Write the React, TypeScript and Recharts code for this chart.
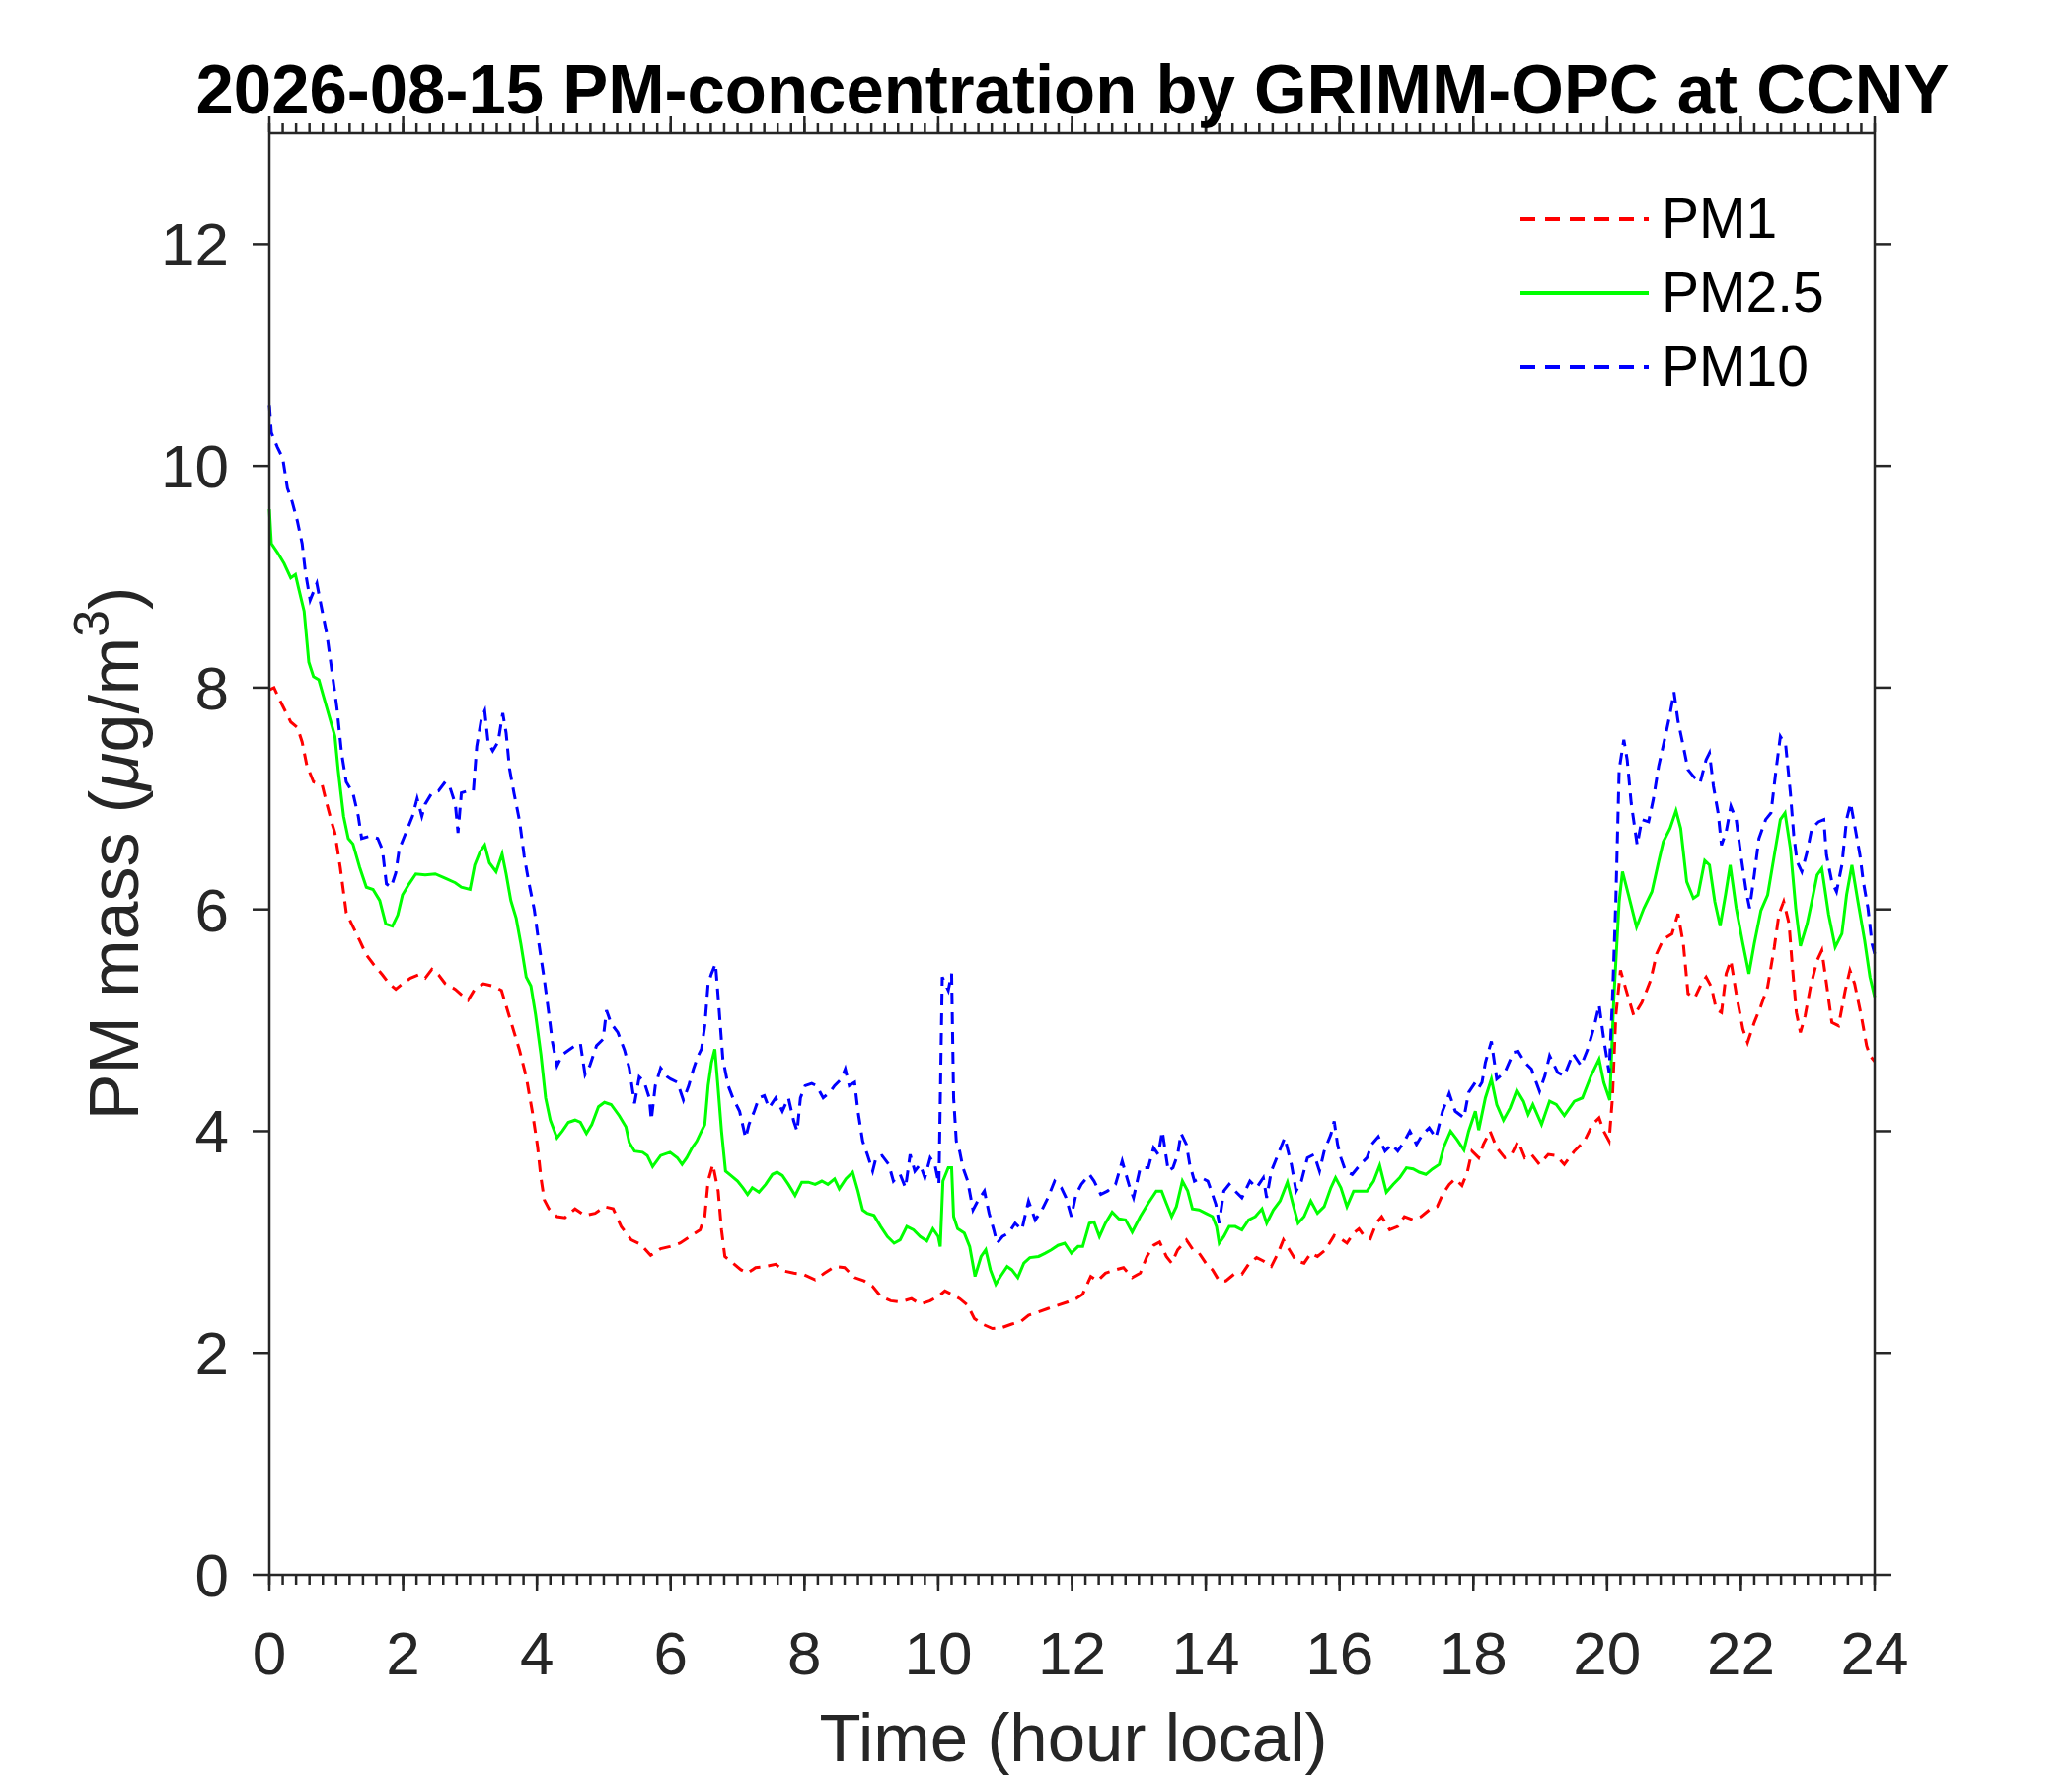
import { LineChart, Line, XAxis, YAxis, Legend } from "recharts";

// hour of day, PM mass (µg/m³)
const PM1: [number, number][] = [
  [0, 7.98], [0.07, 8.0], [0.17, 7.87], [0.32, 7.69], [0.42, 7.64], [0.49, 7.51], [0.56, 7.3],
  [0.66, 7.15], [0.79, 7.12], [0.86, 6.95], [0.93, 6.79], [0.98, 6.69], [1.06, 6.38], [1.15, 5.97],
  [1.23, 5.87], [1.35, 5.72], [1.45, 5.59], [1.55, 5.51], [1.69, 5.41], [1.79, 5.33], [1.89, 5.28],
  [1.99, 5.33], [2.11, 5.38], [2.23, 5.41], [2.33, 5.38], [2.43, 5.46], [2.53, 5.41], [2.63, 5.33],
  [2.78, 5.28], [2.87, 5.23], [2.97, 5.18], [3.07, 5.28], [3.2, 5.33], [3.34, 5.31], [3.47, 5.27],
  [3.54, 5.13], [3.64, 4.93], [3.74, 4.73], [3.84, 4.49], [3.93, 4.18], [4.01, 3.86], [4.06, 3.58],
  [4.11, 3.38], [4.18, 3.3], [4.3, 3.23], [4.42, 3.22], [4.57, 3.3], [4.72, 3.24], [4.87, 3.26],
  [5.01, 3.32], [5.14, 3.3], [5.26, 3.14], [5.41, 3.02], [5.55, 2.98], [5.7, 2.88], [5.85, 2.94],
  [5.99, 2.96], [6.14, 2.99], [6.29, 3.05], [6.44, 3.11], [6.51, 3.23], [6.56, 3.55], [6.63, 3.7],
  [6.71, 3.46], [6.76, 3.11], [6.81, 2.87], [6.93, 2.81], [7.05, 2.75], [7.15, 2.72], [7.27, 2.77],
  [7.42, 2.78], [7.57, 2.8], [7.69, 2.74], [7.84, 2.72], [7.98, 2.71], [8.16, 2.66], [8.3, 2.72],
  [8.45, 2.78], [8.6, 2.77], [8.75, 2.68], [8.89, 2.65], [9.02, 2.6], [9.14, 2.51], [9.29, 2.47],
  [9.43, 2.46], [9.6, 2.49], [9.73, 2.44], [9.88, 2.47], [10.0, 2.51], [10.1, 2.56], [10.2, 2.53],
  [10.32, 2.49], [10.44, 2.43], [10.54, 2.31], [10.66, 2.26], [10.81, 2.22], [10.96, 2.23],
  [11.1, 2.26], [11.23, 2.28], [11.35, 2.34], [11.5, 2.37], [11.64, 2.4], [11.79, 2.43],
  [11.94, 2.46], [12.06, 2.49], [12.16, 2.53], [12.28, 2.69], [12.38, 2.65], [12.5, 2.72],
  [12.65, 2.75], [12.77, 2.77], [12.9, 2.68], [13.02, 2.72], [13.12, 2.87], [13.22, 2.97],
  [13.31, 3.0], [13.41, 2.87], [13.49, 2.81], [13.58, 2.93], [13.71, 3.02], [13.81, 2.93],
  [13.9, 2.9], [14.0, 2.81], [14.1, 2.75], [14.2, 2.65], [14.3, 2.65], [14.42, 2.71], [14.54, 2.71],
  [14.64, 2.8], [14.76, 2.86], [14.86, 2.83], [14.98, 2.78], [15.08, 2.9], [15.16, 3.02],
  [15.25, 2.93], [15.35, 2.83], [15.47, 2.81], [15.57, 2.9], [15.67, 2.87], [15.79, 2.93],
  [15.92, 3.06], [16.02, 3.03], [16.11, 2.99], [16.21, 3.08], [16.29, 3.12], [16.36, 3.06],
  [16.46, 3.03], [16.55, 3.17], [16.63, 3.23], [16.75, 3.11], [16.87, 3.14], [16.97, 3.23],
  [17.1, 3.2], [17.22, 3.23], [17.34, 3.29], [17.46, 3.32], [17.54, 3.43], [17.64, 3.52],
  [17.73, 3.57], [17.83, 3.51], [17.91, 3.63], [17.98, 3.82], [18.08, 3.76], [18.15, 3.88],
  [18.25, 4.0], [18.35, 3.85], [18.47, 3.76], [18.57, 3.79], [18.67, 3.91], [18.77, 3.76],
  [18.87, 3.79], [18.99, 3.7], [19.12, 3.79], [19.24, 3.78], [19.36, 3.7], [19.51, 3.82],
  [19.66, 3.91], [19.78, 4.06], [19.88, 4.12], [19.95, 4.0], [20.03, 3.91], [20.08, 4.3],
  [20.13, 5.04], [20.2, 5.45], [20.3, 5.24], [20.4, 5.04], [20.52, 5.16], [20.65, 5.36],
  [20.74, 5.6], [20.84, 5.73], [20.97, 5.78], [21.06, 5.96], [21.14, 5.69], [21.21, 5.24],
  [21.31, 5.2], [21.41, 5.33], [21.48, 5.39], [21.56, 5.3], [21.63, 5.1], [21.71, 5.07],
  [21.78, 5.42], [21.85, 5.54], [21.93, 5.24], [22.03, 4.92], [22.1, 4.8], [22.2, 4.98],
  [22.3, 5.13], [22.4, 5.3], [22.5, 5.66], [22.57, 5.96], [22.64, 6.07], [22.72, 5.87],
  [22.77, 5.48], [22.83, 5.07], [22.89, 4.89], [22.96, 5.04], [23.04, 5.3], [23.14, 5.54],
  [23.21, 5.63], [23.28, 5.33], [23.36, 4.98], [23.46, 4.95], [23.56, 5.27], [23.63, 5.45],
  [23.7, 5.33], [23.8, 5.04], [23.88, 4.77], [23.93, 4.68], [24.0, 4.63],
];

const PM25: [number, number][] = [
  [0, 9.61], [0.03, 9.3], [0.12, 9.22], [0.22, 9.12], [0.32, 8.99], [0.39, 9.02], [0.44, 8.89],
  [0.52, 8.69], [0.59, 8.23], [0.66, 8.1], [0.74, 8.07], [0.81, 7.92], [0.91, 7.71], [0.98, 7.56],
  [1.03, 7.25], [1.11, 6.84], [1.18, 6.64], [1.25, 6.59], [1.35, 6.38], [1.45, 6.2], [1.55, 6.18],
  [1.65, 6.08], [1.74, 5.87], [1.84, 5.85], [1.92, 5.95], [1.99, 6.13], [2.09, 6.23], [2.19, 6.32],
  [2.33, 6.31], [2.48, 6.32], [2.63, 6.28], [2.78, 6.24], [2.87, 6.2], [3.0, 6.18], [3.07, 6.4],
  [3.15, 6.52], [3.22, 6.58], [3.29, 6.42], [3.39, 6.34], [3.48, 6.5], [3.54, 6.32], [3.61, 6.08],
  [3.69, 5.92], [3.76, 5.69], [3.84, 5.39], [3.91, 5.31], [3.98, 5.05], [4.06, 4.69], [4.13, 4.3],
  [4.2, 4.1], [4.3, 3.94], [4.38, 4.0], [4.47, 4.08], [4.57, 4.1], [4.65, 4.08], [4.74, 3.98],
  [4.82, 4.06], [4.92, 4.22], [5.01, 4.26], [5.11, 4.24], [5.23, 4.14], [5.33, 4.04], [5.38, 3.9],
  [5.46, 3.82], [5.58, 3.81], [5.65, 3.78], [5.73, 3.68], [5.85, 3.78], [5.99, 3.81], [6.1, 3.76],
  [6.17, 3.7], [6.24, 3.76], [6.32, 3.85], [6.39, 3.91], [6.46, 4.0], [6.51, 4.06], [6.56, 4.41],
  [6.61, 4.62], [6.66, 4.74], [6.71, 4.38], [6.76, 4.0], [6.82, 3.64], [6.9, 3.6], [7.0, 3.55],
  [7.08, 3.49], [7.15, 3.43], [7.22, 3.49], [7.32, 3.45], [7.42, 3.52], [7.52, 3.61], [7.59, 3.63],
  [7.67, 3.6], [7.76, 3.52], [7.86, 3.42], [7.96, 3.54], [8.06, 3.54], [8.16, 3.52], [8.26, 3.55],
  [8.35, 3.52], [8.45, 3.57], [8.52, 3.48], [8.62, 3.57], [8.72, 3.63], [8.8, 3.46], [8.87, 3.29],
  [8.94, 3.26], [9.04, 3.24], [9.14, 3.14], [9.24, 3.05], [9.34, 2.99], [9.43, 3.02], [9.53, 3.14],
  [9.63, 3.11], [9.73, 3.05], [9.83, 3.01], [9.92, 3.12], [10.0, 3.05], [10.03, 2.96], [10.07, 3.55],
  [10.15, 3.67], [10.2, 3.67], [10.23, 3.23], [10.29, 3.12], [10.39, 3.08], [10.47, 2.96],
  [10.55, 2.69], [10.64, 2.87], [10.71, 2.93], [10.78, 2.75], [10.86, 2.62], [10.93, 2.69],
  [11.03, 2.78], [11.1, 2.75], [11.19, 2.68], [11.28, 2.81], [11.37, 2.86], [11.5, 2.87],
  [11.6, 2.9], [11.69, 2.93], [11.79, 2.97], [11.89, 2.99], [11.99, 2.9], [12.09, 2.96],
  [12.16, 2.96], [12.26, 3.17], [12.33, 3.18], [12.41, 3.05], [12.5, 3.17], [12.6, 3.27],
  [12.7, 3.21], [12.8, 3.2], [12.9, 3.09], [13.02, 3.23], [13.14, 3.35], [13.26, 3.46],
  [13.34, 3.46], [13.41, 3.35], [13.49, 3.23], [13.56, 3.32], [13.65, 3.55], [13.73, 3.46],
  [13.8, 3.3], [13.9, 3.29], [14.0, 3.26], [14.1, 3.23], [14.16, 3.14], [14.2, 2.99], [14.27, 3.05],
  [14.35, 3.14], [14.44, 3.14], [14.54, 3.11], [14.64, 3.2], [14.74, 3.23], [14.84, 3.3],
  [14.91, 3.17], [15.01, 3.29], [15.11, 3.37], [15.22, 3.54], [15.3, 3.35], [15.38, 3.17],
  [15.47, 3.23], [15.57, 3.37], [15.67, 3.26], [15.77, 3.32], [15.87, 3.49], [15.94, 3.58],
  [16.02, 3.49], [16.11, 3.32], [16.21, 3.46], [16.31, 3.46], [16.41, 3.46], [16.51, 3.55],
  [16.6, 3.69], [16.7, 3.45], [16.8, 3.52], [16.9, 3.58], [17.0, 3.67], [17.1, 3.66],
  [17.19, 3.63], [17.29, 3.61], [17.39, 3.66], [17.49, 3.7], [17.56, 3.86], [17.66, 4.0],
  [17.76, 3.92], [17.86, 3.83], [17.93, 4.0], [18.03, 4.18], [18.08, 4.01], [18.18, 4.3],
  [18.27, 4.47], [18.35, 4.24], [18.45, 4.1], [18.55, 4.21], [18.65, 4.37], [18.75, 4.27],
  [18.82, 4.15], [18.89, 4.24], [19.02, 4.06], [19.14, 4.27], [19.24, 4.24], [19.36, 4.14],
  [19.51, 4.27], [19.63, 4.3], [19.76, 4.5], [19.88, 4.65], [19.95, 4.44], [20.04, 4.28],
  [20.1, 5.19], [20.18, 6.07], [20.23, 6.34], [20.32, 6.13], [20.44, 5.84], [20.55, 6.01],
  [20.67, 6.16], [20.77, 6.43], [20.84, 6.61], [20.94, 6.73], [21.03, 6.89], [21.1, 6.73],
  [21.19, 6.25], [21.29, 6.1], [21.36, 6.13], [21.46, 6.44], [21.53, 6.4], [21.61, 6.07],
  [21.69, 5.85], [21.77, 6.13], [21.84, 6.4], [21.93, 6.01], [22.03, 5.69], [22.12, 5.42],
  [22.2, 5.69], [22.3, 5.99], [22.4, 6.13], [22.5, 6.49], [22.59, 6.81], [22.66, 6.87],
  [22.74, 6.55], [22.82, 6.01], [22.89, 5.67], [22.99, 5.87], [23.06, 6.07], [23.14, 6.31],
  [23.21, 6.37], [23.31, 5.96], [23.41, 5.66], [23.51, 5.78], [23.58, 6.13], [23.66, 6.4],
  [23.75, 6.07], [23.85, 5.72], [23.93, 5.39], [24.0, 5.21],
];

const PM10: [number, number][] = [
  [0, 10.55], [0.03, 10.3], [0.12, 10.17], [0.2, 10.07], [0.27, 9.8], [0.34, 9.68], [0.42, 9.5],
  [0.49, 9.3], [0.54, 9.04], [0.61, 8.79], [0.71, 8.94], [0.79, 8.69], [0.86, 8.48], [0.93, 8.17],
  [1.01, 7.82], [1.08, 7.41], [1.15, 7.15], [1.25, 7.05], [1.33, 6.84], [1.38, 6.64], [1.5, 6.66],
  [1.62, 6.64], [1.69, 6.54], [1.75, 6.23], [1.82, 6.2], [1.89, 6.33], [1.94, 6.54], [2.04, 6.69],
  [2.14, 6.84], [2.21, 7.0], [2.28, 6.84], [2.33, 6.95], [2.43, 7.05], [2.53, 7.07], [2.63, 7.15],
  [2.7, 7.1], [2.78, 6.95], [2.82, 6.69], [2.87, 7.05], [2.97, 7.07], [3.05, 7.07], [3.1, 7.47],
  [3.17, 7.72], [3.22, 7.79], [3.27, 7.51], [3.34, 7.43], [3.42, 7.51], [3.49, 7.77], [3.54, 7.59],
  [3.59, 7.27], [3.66, 7.04], [3.74, 6.8], [3.81, 6.48], [3.88, 6.24], [3.96, 6.0], [4.03, 5.69],
  [4.11, 5.37], [4.18, 5.05], [4.23, 4.81], [4.3, 4.59], [4.38, 4.69], [4.47, 4.73], [4.57, 4.77],
  [4.65, 4.79], [4.72, 4.51], [4.79, 4.59], [4.89, 4.77], [4.99, 4.83], [5.04, 5.09], [5.11, 4.97],
  [5.21, 4.89], [5.31, 4.73], [5.38, 4.57], [5.46, 4.25], [5.53, 4.49], [5.6, 4.45], [5.68, 4.3],
  [5.71, 4.1], [5.77, 4.41], [5.85, 4.57], [5.95, 4.49], [6.0, 4.47], [6.1, 4.44], [6.19, 4.28],
  [6.27, 4.41], [6.34, 4.56], [6.41, 4.68], [6.46, 4.74], [6.51, 4.95], [6.56, 5.33], [6.61, 5.42],
  [6.67, 5.51], [6.72, 5.13], [6.78, 4.65], [6.86, 4.41], [6.93, 4.3], [7.03, 4.18], [7.12, 3.94],
  [7.17, 4.06], [7.25, 4.18], [7.32, 4.3], [7.4, 4.32], [7.47, 4.21], [7.57, 4.3], [7.67, 4.18],
  [7.76, 4.3], [7.84, 4.09], [7.89, 4.0], [7.94, 4.3], [8.01, 4.41], [8.11, 4.43], [8.18, 4.41],
  [8.28, 4.3], [8.38, 4.35], [8.45, 4.41], [8.55, 4.47], [8.61, 4.56], [8.67, 4.41], [8.75, 4.44],
  [8.8, 4.18], [8.87, 3.91], [8.94, 3.79], [9.02, 3.64], [9.07, 3.76], [9.16, 3.78], [9.26, 3.7],
  [9.33, 3.55], [9.43, 3.61], [9.51, 3.49], [9.58, 3.79], [9.65, 3.64], [9.73, 3.7], [9.8, 3.58],
  [9.88, 3.76], [9.95, 3.7], [10.01, 3.52], [10.06, 5.39], [10.15, 5.27], [10.2, 5.42],
  [10.23, 4.3], [10.27, 3.91], [10.32, 3.82], [10.37, 3.67], [10.44, 3.55], [10.52, 3.29],
  [10.59, 3.37], [10.69, 3.46], [10.76, 3.26], [10.83, 3.11], [10.88, 2.99], [10.96, 3.05],
  [11.05, 3.08], [11.15, 3.17], [11.25, 3.11], [11.35, 3.37], [11.45, 3.2], [11.55, 3.29],
  [11.64, 3.4], [11.74, 3.55], [11.84, 3.49], [11.91, 3.4], [11.99, 3.23], [12.06, 3.43],
  [12.14, 3.52], [12.26, 3.61], [12.33, 3.55], [12.43, 3.43], [12.53, 3.46], [12.65, 3.52],
  [12.75, 3.73], [12.85, 3.52], [12.92, 3.4], [13.02, 3.67], [13.14, 3.67], [13.22, 3.85],
  [13.29, 3.79], [13.35, 4.0], [13.44, 3.64], [13.51, 3.67], [13.58, 3.79], [13.63, 3.98],
  [13.71, 3.88], [13.76, 3.7], [13.83, 3.55], [13.93, 3.58], [14.03, 3.55], [14.1, 3.43],
  [14.15, 3.34], [14.2, 3.17], [14.27, 3.46], [14.35, 3.52], [14.44, 3.46], [14.54, 3.4],
  [14.66, 3.55], [14.76, 3.49], [14.86, 3.58], [14.91, 3.4], [14.98, 3.64], [15.08, 3.79],
  [15.18, 3.94], [15.28, 3.7], [15.35, 3.46], [15.43, 3.55], [15.52, 3.76], [15.62, 3.79],
  [15.7, 3.64], [15.77, 3.82], [15.87, 3.97], [15.92, 4.09], [15.97, 3.88], [16.02, 3.76],
  [16.09, 3.64], [16.19, 3.61], [16.31, 3.7], [16.41, 3.76], [16.48, 3.88], [16.58, 3.95],
  [16.68, 3.82], [16.78, 3.88], [16.87, 3.82], [16.97, 3.91], [17.05, 4.0], [17.15, 3.88],
  [17.24, 3.97], [17.34, 4.03], [17.44, 3.94], [17.54, 4.18], [17.64, 4.34], [17.73, 4.18],
  [17.86, 4.12], [17.93, 4.35], [18.03, 4.44], [18.08, 4.39], [18.13, 4.44], [18.18, 4.62],
  [18.27, 4.81], [18.35, 4.47], [18.47, 4.53], [18.6, 4.71], [18.67, 4.72], [18.77, 4.62],
  [18.87, 4.56], [18.99, 4.36], [19.07, 4.5], [19.14, 4.68], [19.26, 4.53], [19.36, 4.5],
  [19.49, 4.7], [19.61, 4.59], [19.71, 4.74], [19.81, 4.95], [19.88, 5.14], [19.95, 4.83],
  [20.03, 4.53], [20.08, 5.19], [20.13, 6.07], [20.18, 7.26], [20.25, 7.53], [20.3, 7.35],
  [20.36, 6.96], [20.45, 6.58], [20.52, 6.81], [20.62, 6.79], [20.69, 6.99], [20.77, 7.29],
  [20.87, 7.56], [20.94, 7.76], [21.0, 7.96], [21.06, 7.7], [21.14, 7.47], [21.21, 7.26],
  [21.29, 7.2], [21.39, 7.14], [21.48, 7.35], [21.53, 7.41], [21.59, 7.11], [21.66, 6.87],
  [21.71, 6.58], [21.78, 6.7], [21.85, 6.93], [21.93, 6.81], [22.0, 6.49], [22.08, 6.16],
  [22.13, 6.01], [22.2, 6.31], [22.27, 6.64], [22.37, 6.81], [22.45, 6.87], [22.52, 7.23],
  [22.59, 7.56], [22.67, 7.48], [22.74, 7.05], [22.79, 6.67], [22.84, 6.43], [22.91, 6.34],
  [22.99, 6.52], [23.06, 6.73], [23.16, 6.79], [23.24, 6.81], [23.28, 6.49], [23.36, 6.25],
  [23.43, 6.16], [23.51, 6.4], [23.58, 6.81], [23.64, 6.96], [23.7, 6.76], [23.78, 6.49],
  [23.83, 6.25], [23.9, 6.01], [23.96, 5.69], [24.0, 5.6],
];

const X_TICKS = [0, 2, 4, 6, 8, 10, 12, 14, 16, 18, 20, 22, 24];
const X_MINOR_TICKS = Array.from({ length: 121 }, (_, i) => i / 5);
const Y_TICKS = [0, 2, 4, 6, 8, 10, 12];

const TITLE = "2026-08-15 PM-concentration by GRIMM-OPC at CCNY";
const X_LABEL = "Time (hour local)";

const SERIES = [
  { name: "PM1", data: PM1, color: "#ff0000", dash: "12 8" },
  { name: "PM2.5", data: PM25, color: "#00ff00", dash: undefined },
  { name: "PM10", data: PM10, color: "#0000ff", dash: "12 8" },
];

const FONT = "'Liberation Sans', Arial, Helvetica, sans-serif";
const AXIS = "#262626";

// ticks with a mark but no label (tick={false} would drop the marks too)
const NoLabel = () => <g />;

function LegendBox() {
  return (
    <div style={{ fontFamily: FONT }}>
      {SERIES.map((s) => (
        <div key={s.name} style={{ display: "flex", alignItems: "center", height: 75 }}>
          <svg width={130} height={10} style={{ display: "block" }}>
            <line
              x1={0}
              y1={5}
              x2={130}
              y2={5}
              stroke={s.color}
              strokeWidth={4}
              strokeDasharray={s.dash ? "15 10" : undefined}
            />
          </svg>
          <span style={{ marginLeft: 13, fontSize: 57, lineHeight: "57px", color: "#000" }}>
            {s.name}
          </span>
        </div>
      ))}
    </div>
  );
}

export default function App() {
  const axisLine = { stroke: AXIS, strokeWidth: 2.5 };
  return (
    <div
      style={{ position: "absolute", left: 0, top: 0, width: 2100, height: 1800, background: "#fff" }}
    >
      <LineChart
        width={2100}
        height={1800}
        margin={{ top: 133, right: 199, bottom: 202, left: 272 }}
      >
        <XAxis
          xAxisId="main"
          dataKey="t"
          type="number"
          domain={[0, 24]}
          ticks={X_TICKS}
          interval={0}
          height={1}
          tickSize={17}
          tickMargin={40}
          axisLine={axisLine}
          tickLine={axisLine}
          tick={{ fontSize: 62, fill: AXIS, fontFamily: FONT }}
        />
        <XAxis
          xAxisId="minor"
          dataKey="t"
          type="number"
          domain={[0, 24]}
          allowDataOverflow
          ticks={X_MINOR_TICKS}
          interval={0}
          height={1}
          tickSize={9}
          axisLine={false}
          tickLine={axisLine}
          tick={NoLabel}
        />
        <XAxis
          xAxisId="top"
          orientation="top"
          dataKey="t"
          type="number"
          domain={[0, 24]}
          allowDataOverflow
          ticks={X_TICKS}
          interval={0}
          height={1}
          tickSize={17}
          axisLine={axisLine}
          tickLine={axisLine}
          tick={NoLabel}
        />
        <XAxis
          xAxisId="topMinor"
          orientation="top"
          dataKey="t"
          type="number"
          domain={[0, 24]}
          allowDataOverflow
          ticks={X_MINOR_TICKS}
          interval={0}
          height={1}
          tickSize={9}
          axisLine={false}
          tickLine={axisLine}
          tick={NoLabel}
        />
        <YAxis
          yAxisId="main"
          type="number"
          domain={[0, 13]}
          ticks={Y_TICKS}
          interval={0}
          width={1}
          tickSize={17}
          tickMargin={24}
          axisLine={axisLine}
          tickLine={axisLine}
          tick={{ fontSize: 62, fill: AXIS, fontFamily: FONT }}
        />
        <YAxis
          yAxisId="right"
          orientation="right"
          type="number"
          domain={[0, 13]}
          allowDataOverflow
          ticks={Y_TICKS}
          interval={0}
          width={1}
          tickSize={17}
          axisLine={axisLine}
          tickLine={axisLine}
          tick={NoLabel}
        />
        {SERIES.map((s) => (
          <Line
            key={s.name}
            xAxisId="main"
            yAxisId="main"
            name={s.name}
            data={s.data.map(([t, v]) => ({ t, v }))}
            dataKey="v"
            type="linear"
            stroke={s.color}
            strokeWidth={3}
            strokeDasharray={s.dash}
            dot={false}
            activeDot={false}
            isAnimationActive={false}
          />
        ))}
        <Legend
          layout="vertical"
          align="center"
          verticalAlign="middle"
          wrapperStyle={{ left: 1541, top: 184, width: 400 }}
          content={() => <LegendBox />}
        />
      </LineChart>
      <svg
        width={2100}
        height={1800}
        style={{ position: "absolute", left: 0, top: 0, pointerEvents: "none" }}
      >
        <text
          x={1087}
          y={115}
          textAnchor="middle"
          fontFamily={FONT}
          fontWeight="bold"
          fontSize={70}
          textLength={1777}
          lengthAdjust="spacingAndGlyphs"
          fill="#000"
        >
          {TITLE}
        </text>
        <text
          x={1088}
          y={1785}
          textAnchor="middle"
          fontFamily={FONT}
          fontSize={69}
          fill={AXIS}
        >
          {X_LABEL}
        </text>
        <text
          transform="translate(140, 865) rotate(-90)"
          textAnchor="middle"
          fontFamily={FONT}
          fontSize={70}
          fill={AXIS}
        >
          PM mass (<tspan fontStyle="italic">μ</tspan>g/m
          <tspan dy={-30} fontSize={50}>3</tspan>
          <tspan dy={30}>)</tspan>
        </text>
      </svg>
    </div>
  );
}
